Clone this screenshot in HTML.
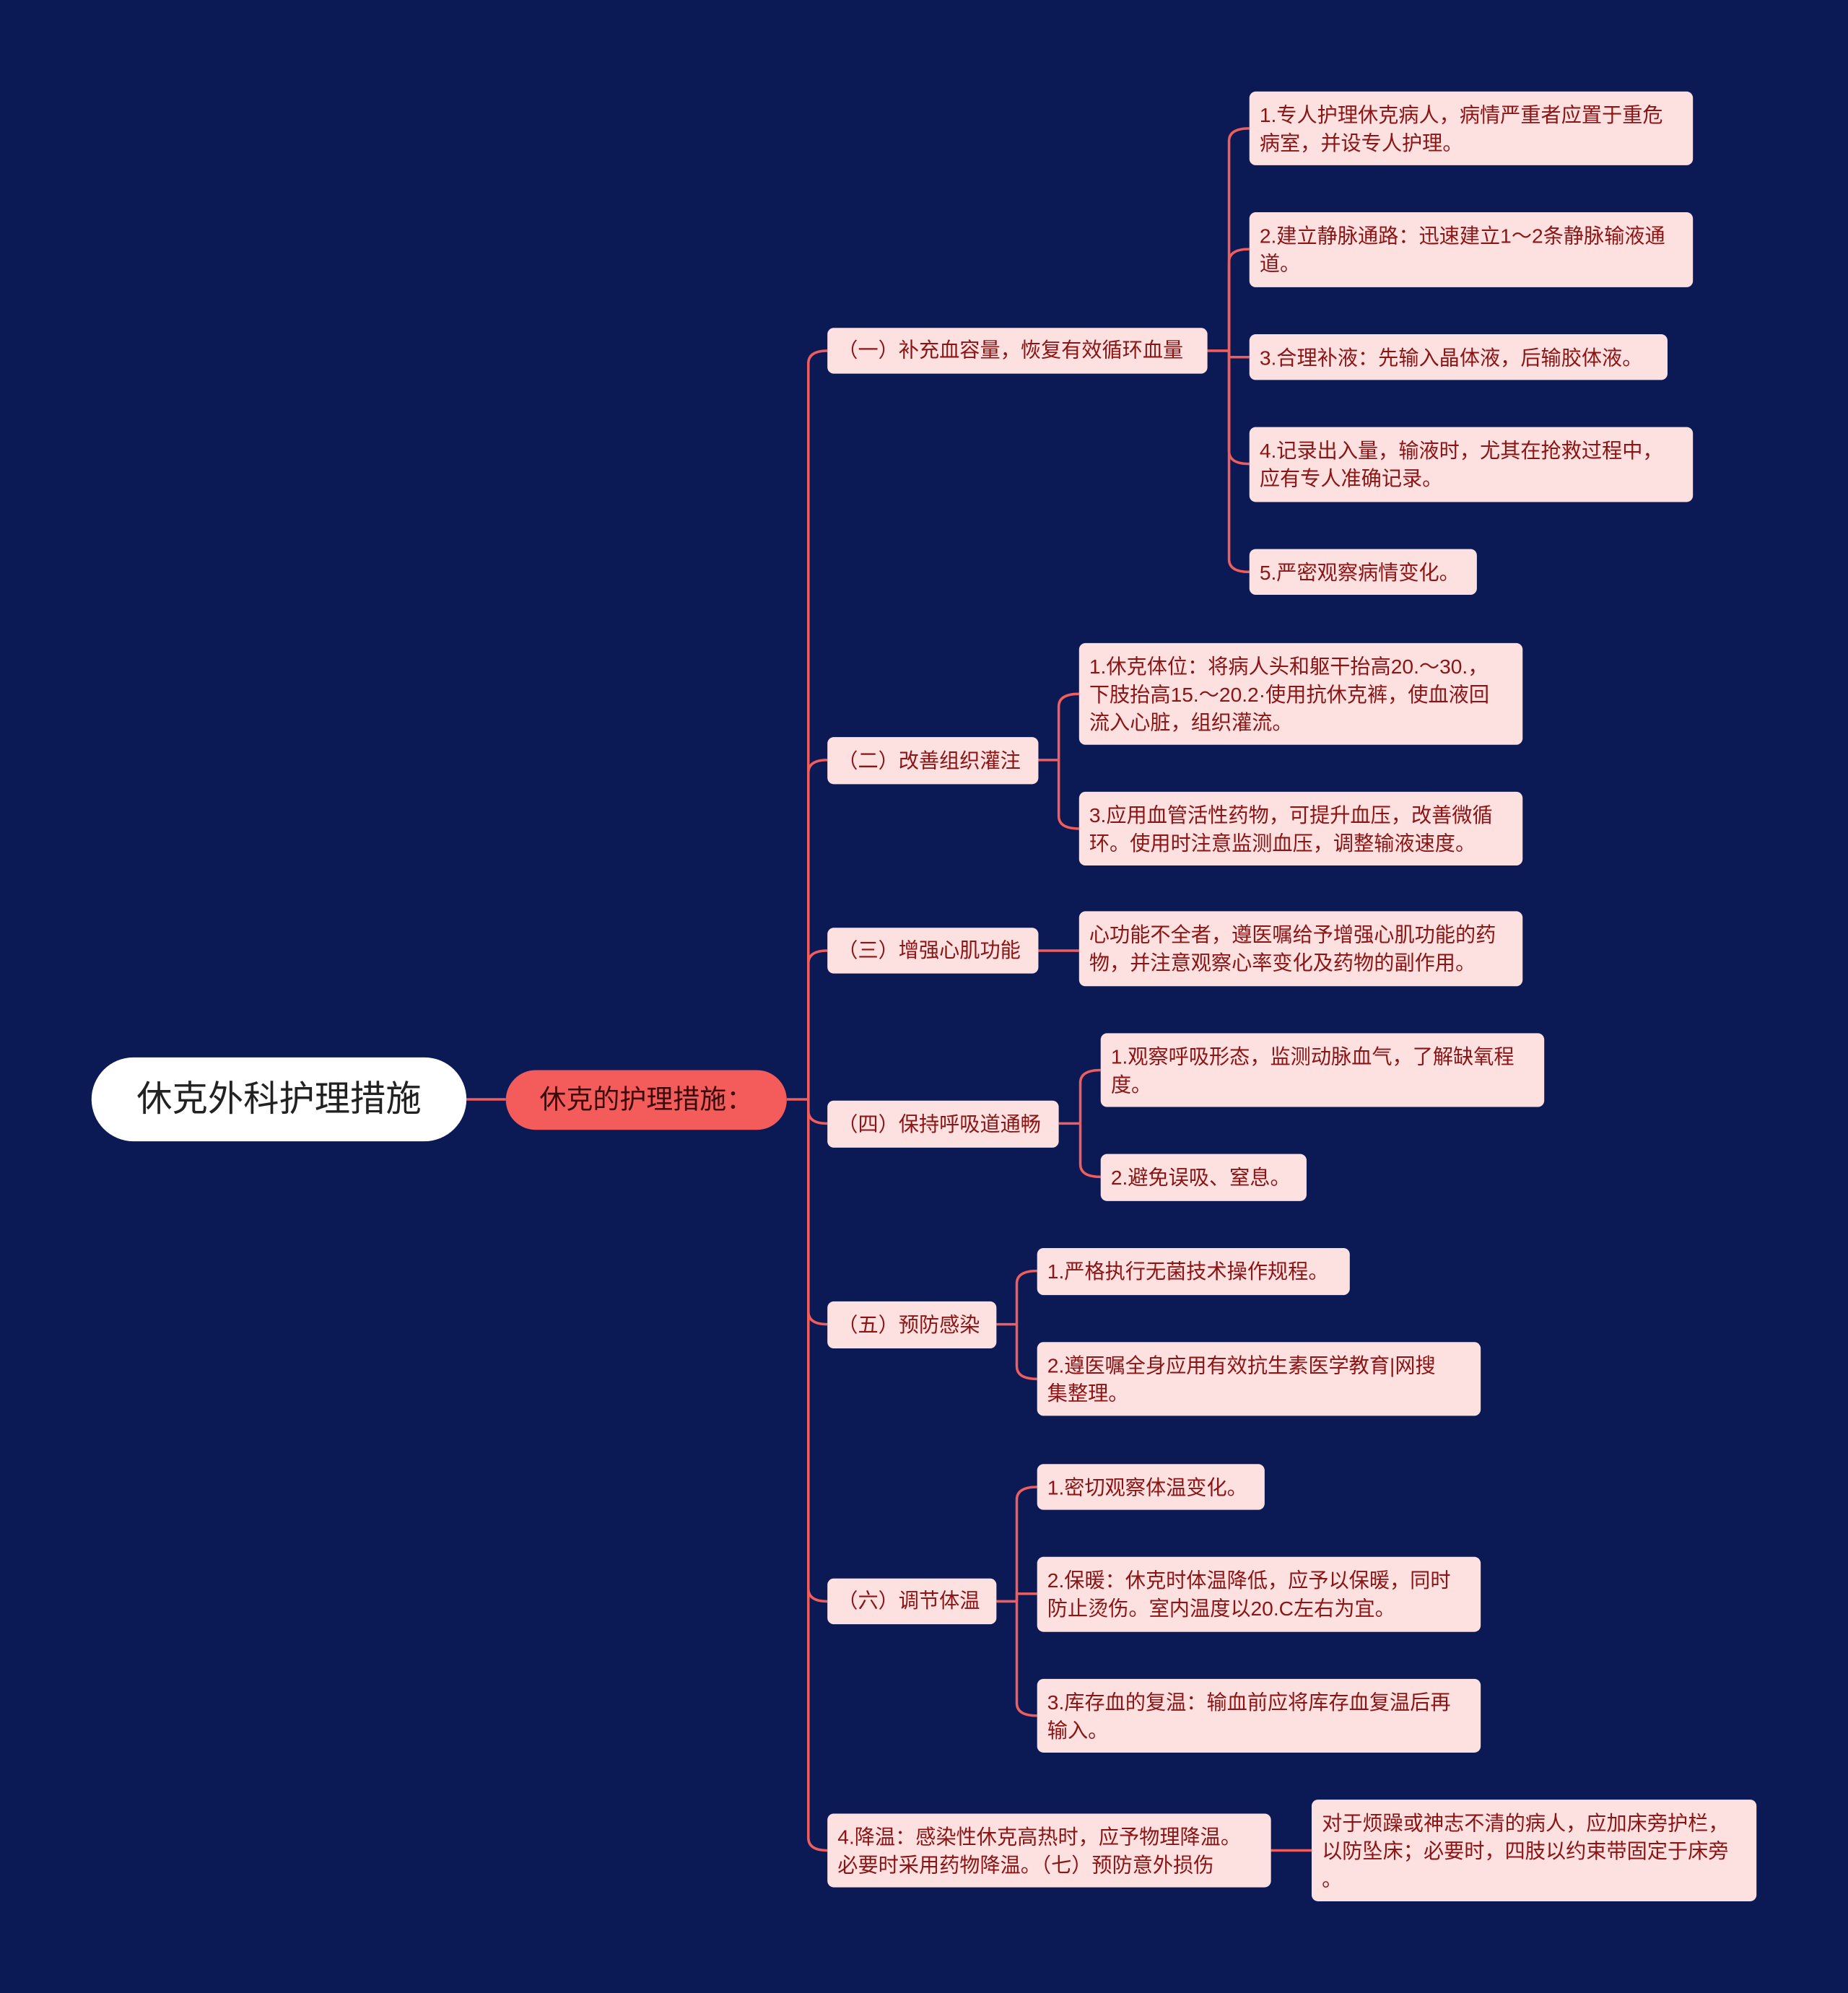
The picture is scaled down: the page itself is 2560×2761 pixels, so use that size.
<!DOCTYPE html>
<html><head><meta charset="utf-8"><style>
html,body{margin:0;padding:0;background:#0b1a55;}
body{width:2560px;height:2761px;overflow:hidden;position:relative;}
#c{position:absolute;left:0;top:0;width:1454px;height:1568px;transform:scale(1.76066);transform-origin:0 0;font-family:"Liberation Sans","Noto Sans CJK SC",sans-serif;}
.n{position:absolute;box-sizing:border-box;background:#fde0e0;color:#8b1414;border-radius:5px;font-size:16px;line-height:22px;padding:9px 8px 5px;white-space:nowrap;}
.l2{display:flex;align-items:center;padding:2px 8px 0;}
svg{position:absolute;left:0;top:0;}
</style></head><body><div id="c">
<svg width="1454" height="1568" fill="none" stroke="#ef5d5d" stroke-width="2">
<path d="M367,865 H398"/>
<path d="M619,865 H636"/>
<path d="M636,865 V286 Q636,276 651,276"/>
<path d="M636,865 V608 Q636,598 651,598"/>
<path d="M636,865 V758 Q636,748 651,748"/>
<path d="M636,865 V874 Q636,884 651,884"/>
<path d="M636,865 V1032 Q636,1042 651,1042"/>
<path d="M636,865 V1250 Q636,1260 651,1260"/>
<path d="M636,865 V1446 Q636,1456 651,1456"/>
<path d="M950,276 H967"/>
<path d="M967,276 V111 Q967,101 983,101"/>
<path d="M967,276 V206 Q967,196 983,196"/>
<path d="M967,276 V281 H983"/>
<path d="M967,276 V355 Q967,365 983,365"/>
<path d="M967,276 V440 Q967,450 983,450"/>
<path d="M817,598 H833"/>
<path d="M833,598 V556 Q833,546 849,546"/>
<path d="M833,598 V642 Q833,652 849,652"/>
<path d="M817,748 H849"/>
<path d="M833,884 H850"/>
<path d="M850,884 V852 Q850,842 866,842"/>
<path d="M850,884 V916 Q850,926 866,926"/>
<path d="M784,1042 H800"/>
<path d="M800,1042 V1010 Q800,1000 816,1000"/>
<path d="M800,1042 V1075 Q800,1085 816,1085"/>
<path d="M784,1260 H800"/>
<path d="M800,1260 V1180 Q800,1170 816,1170"/>
<path d="M800,1260 V1254 H816"/>
<path d="M800,1260 V1340 Q800,1350 816,1350"/>
<path d="M1000,1456 H1032"/>
</svg>
<div class="n" style="left:72px;top:832px;width:295px;height:66px;border-radius:33px;background:#fff;color:#222;font-size:28px;display:flex;align-items:center;justify-content:center;padding:0;">休克外科护理措施</div>
<div class="n" style="left:398px;top:842px;width:221px;height:47px;border-radius:24px;background:#f45c5c;color:#3a0a0a;font-size:21px;display:flex;align-items:center;justify-content:center;padding:0;">休克的护理措施：</div>

<div class="n l2" style="left:651px;top:258px;width:299px;height:36px;">（一）补充血容量，恢复有效循环血量</div>
<div class="n l2" style="left:651px;top:580px;width:166px;height:37px;">（二）改善组织灌注</div>
<div class="n l2" style="left:651px;top:730px;width:166px;height:36px;">（三）增强心肌功能</div>
<div class="n l2" style="left:651px;top:866px;width:182px;height:37px;">（四）保持呼吸道通畅</div>
<div class="n l2" style="left:651px;top:1024px;width:133px;height:37px;">（五）预防感染</div>
<div class="n l2" style="left:651px;top:1242px;width:133px;height:36px;">（六）调节体温</div>
<div class="n" style="left:651px;top:1427px;width:349px;height:58px;">4.降温：感染性休克高热时，应予物理降温。<br>必要时采用药物降温。（七）预防意外损伤</div>

<div class="n" style="left:983px;top:72px;width:349px;height:58px;">1.专人护理休克病人，病情严重者应置于重危<br>病室，并设专人护理。</div>
<div class="n" style="left:983px;top:167px;width:349px;height:59px;">2.建立静脉通路：迅速建立1～2条静脉输液通<br>道。</div>
<div class="n" style="left:983px;top:263px;width:329px;height:36px;">3.合理补液：先输入晶体液，后输胶体液。</div>
<div class="n" style="left:983px;top:336px;width:349px;height:59px;">4.记录出入量，输液时，尤其在抢救过程中，<br>应有专人准确记录。</div>
<div class="n" style="left:983px;top:432px;width:179px;height:36px;">5.严密观察病情变化。</div>

<div class="n" style="left:849px;top:506px;width:349px;height:80px;">1.休克体位：将病人头和躯干抬高20.～30.，<br>下肢抬高15.～20.2·使用抗休克裤，使血液回<br>流入心脏，组织灌流。</div>
<div class="n" style="left:849px;top:623px;width:349px;height:58px;">3.应用血管活性药物，可提升血压，改善微循<br>环。使用时注意监测血压，调整输液速度。</div>
<div class="n" style="left:849px;top:717px;width:349px;height:59px;">心功能不全者，遵医嘱给予增强心肌功能的药<br>物，并注意观察心率变化及药物的副作用。</div>

<div class="n" style="left:866px;top:813px;width:349px;height:58px;">1.观察呼吸形态，监测动脉血气，了解缺氧程<br>度。</div>
<div class="n" style="left:866px;top:908px;width:162px;height:37px;">2.避免误吸、窒息。</div>

<div class="n" style="left:816px;top:982px;width:246px;height:37px;">1.严格执行无菌技术操作规程。</div>
<div class="n" style="left:816px;top:1056px;width:349px;height:58px;">2.遵医嘱全身应用有效抗生素医学教育|网搜<br>集整理。</div>

<div class="n" style="left:816px;top:1152px;width:179px;height:36px;">1.密切观察体温变化。</div>
<div class="n" style="left:816px;top:1225px;width:349px;height:59px;">2.保暖：休克时体温降低，应予以保暖，同时<br>防止烫伤。室内温度以20.C左右为宜。</div>
<div class="n" style="left:816px;top:1321px;width:349px;height:58px;">3.库存血的复温：输血前应将库存血复温后再<br>输入。</div>

<div class="n" style="left:1032px;top:1416px;width:350px;height:80px;">对于烦躁或神志不清的病人，应加床旁护栏，<br>以防坠床；必要时，四肢以约束带固定于床旁<br>。</div>
</div></body></html>
